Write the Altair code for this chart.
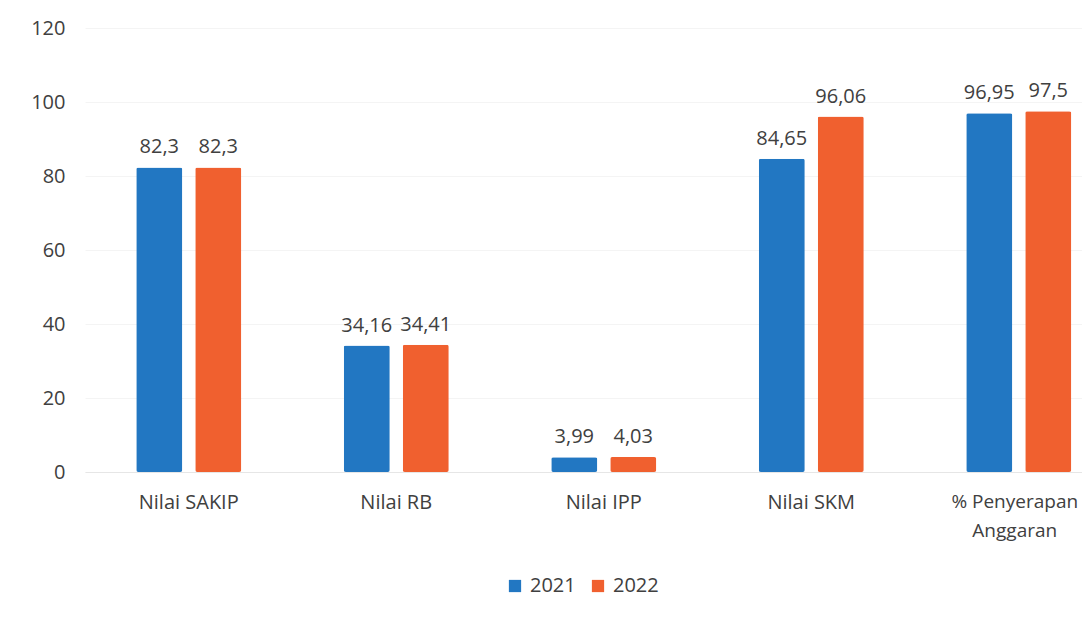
import altair as alt
import pandas as pd

categories = ["Nilai SAKIP", "Nilai RB", "Nilai IPP", "Nilai SKM", "% Penyerapan Anggaran"]
years = ["2021", "2022"]
v2021 = [82.3, 34.16, 3.99, 84.65, 96.95]
v2022 = [82.3, 34.41, 4.03, 96.06, 97.5]
colors = ["#2277C2", "#F0602F"]

rows = []
for yr, vals in zip(years, [v2021, v2022]):
    for c, v in zip(categories, vals):
        rows.append({"cat": c, "year": yr, "value": v, "label": str(v).replace(".", ",")})
df = pd.DataFrame(rows)

FONT = "Open Sans"
TXT = "#404040"
LAST = "datum.value == '% Penyerapan Anggaran'"

x = alt.X("cat:N", sort=categories, title=None,
          scale=alt.Scale(range=[0, 1037.5], paddingInner=0.494, paddingOuter=0.247),
          axis=alt.Axis(labelAngle=0,
                        labelFontSize={"condition": {"test": LAST, "value": 19}, "value": 20},
                        labelOffset={"condition": {"test": LAST, "value": -4}, "value": 0},
                        labelFont=FONT, labelColor=TXT,
                        tickSize=0, labelPadding=20, domain=True, domainColor="#E6E6E6",
                        labelLineHeight=29, labelBaseline="top",
                        labelExpr="datum.label == '% Penyerapan Anggaran' ? ['% Penyerapan', 'Anggaran'] : datum.label"))
xo = alt.XOffset("year:N", scale=alt.Scale(paddingInner=0.22, paddingOuter=0))
y = alt.Y("value:Q", title=None,
          scale=alt.Scale(domain=[0, 120], nice=False),
          axis=alt.Axis(values=[0, 20, 40, 60, 80, 100, 120], labelFontSize=20, labelFont=FONT,
                        labelColor=TXT, tickSize=0, labelPadding=20, domain=False,
                        grid=True, gridColor="#F4F4F4"))

bars = alt.Chart(df).mark_bar(cornerRadius=2).encode(
    x=x, xOffset=xo, y=y,
    color=alt.Color("year:N", scale=alt.Scale(domain=years, range=colors),
                    legend=alt.Legend(title=None, orient="none", legendX=420, legendY=548,
                                      direction="horizontal", symbolType="square",
                                      symbolSize=150, symbolStrokeWidth=0,
                                      labelFontSize=20, labelFont=FONT, labelColor=TXT,
                                      columnPadding=12, labelOffset=5)),
)

labels = alt.Chart(df).mark_text(baseline="alphabetic", dy=-14, fontSize=20, font=FONT, color=TXT).encode(
    x=x, xOffset=xo, y=y, text="label:N",
)

chart = (bars + labels).properties(
    width=997, height=444,
    autosize=alt.AutoSizeParams(type="none"),
    padding={"left": 77, "top": 20, "right": 0, "bottom": 130},
).configure_view(stroke=None)

chart.save("out.html", embed_options={"renderer": "svg", "actions": False})
